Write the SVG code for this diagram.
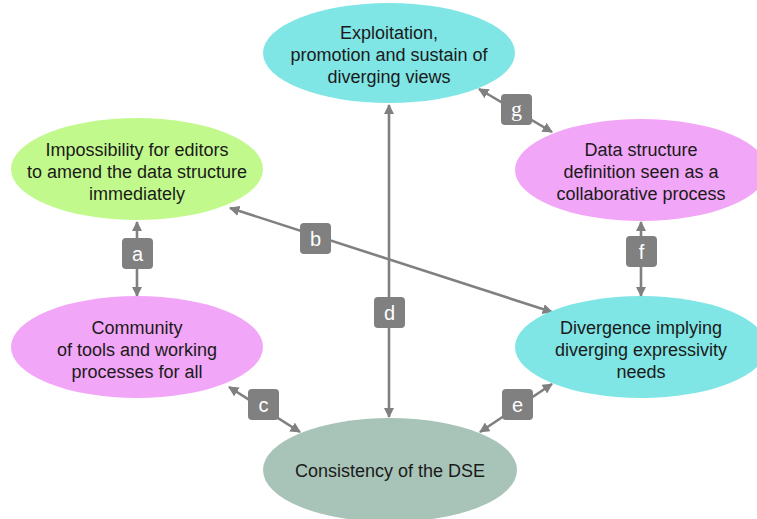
<svg xmlns="http://www.w3.org/2000/svg" width="757" height="519" viewBox="0 0 757 519">
<defs>
<marker id="ah" viewBox="0 0 10 10" refX="9" refY="5" markerWidth="4" markerHeight="4" orient="auto-start-reverse" markerUnits="strokeWidth">
<path d="M0,0 L10,5 L0,10 z" fill="#808080"/>
</marker>
<style>
.t{font-family:"Liberation Sans",Arial,sans-serif;font-size:18px;fill:#1a1a1a;text-anchor:middle}
.c{stroke:#808080;stroke-width:2.6;fill:none;marker-start:url(#ah);marker-end:url(#ah)}
.lb{fill:#808080}
.lt{font-family:"Liberation Sans",Arial,sans-serif;font-size:20px;fill:#ffffff;text-anchor:middle}
.lg{font-family:"Liberation Serif","Times New Roman",serif;font-size:22px;fill:#ffffff;text-anchor:middle}
</style>
</defs>
<rect width="757" height="519" fill="#ffffff"/>
<g id="connectors">
<line class="c" x1="137" y1="222" x2="137" y2="296"/>
<line class="c" x1="230" y1="208" x2="552" y2="312"/>
<line class="c" x1="229" y1="387" x2="300" y2="432"/>
<line class="c" x1="389" y1="105" x2="389" y2="417"/>
<line class="c" x1="552" y1="384" x2="480" y2="432"/>
<line class="c" x1="641" y1="222" x2="641" y2="296"/>
<line class="c" x1="479" y1="89" x2="552" y2="132"/>
<rect class="lb" x="122" y="238" width="31" height="31" rx="4"/><text class="lt" x="137.5" y="261">a</text>
<rect class="lb" x="300" y="223" width="31" height="31" rx="4"/><text class="lt" x="315.5" y="246">b</text>
<rect class="lb" x="248" y="389" width="31" height="31" rx="4"/><text class="lt" x="263.5" y="412">c</text>
<rect class="lb" x="374" y="297" width="31" height="31" rx="4"/><text class="lt" x="389.5" y="320">d</text>
<rect class="lb" x="502" y="389" width="31" height="31" rx="4"/><text class="lt" x="517.5" y="412">e</text>
<rect class="lb" x="626" y="236" width="31" height="31" rx="4"/><text class="lt" x="641.5" y="259">f</text>
<rect class="lb" x="501" y="94" width="31" height="31" rx="4"/><text class="lg" x="516.5" y="116">g</text>
</g>
<g id="n1">
<ellipse cx="389" cy="53" rx="126" ry="50" fill="#80e5e5"/>
<text class="t" x="389" y="39">Exploitation,</text>
<text class="t" x="389" y="61">promotion and sustain of</text>
<text class="t" x="389" y="83">diverging views</text>
</g>
<g id="n2">
<ellipse cx="137" cy="169" rx="126" ry="51" fill="#c2f98c"/>
<text class="t" x="137" y="156">Impossibility for editors</text>
<text class="t" x="137" y="178">to amend the data structure</text>
<text class="t" x="137" y="200">immediately</text>
</g>
<g id="n3">
<ellipse cx="641" cy="170" rx="126" ry="51" fill="#f2a6f7"/>
<text class="t" x="641" y="156">Data structure</text>
<text class="t" x="641" y="178">definition seen as a</text>
<text class="t" x="641" y="200">collaborative process</text>
</g>
<g id="n4">
<ellipse cx="137" cy="347" rx="126" ry="51" fill="#f2a6f7"/>
<text class="t" x="137" y="334">Community</text>
<text class="t" x="137" y="356">of tools and working</text>
<text class="t" x="137" y="378">processes for all</text>
</g>
<g id="n5">
<ellipse cx="641" cy="347" rx="126" ry="51" fill="#80e5e5"/>
<text class="t" x="641" y="334">Divergence implying</text>
<text class="t" x="641" y="356">diverging expressivity</text>
<text class="t" x="641" y="378">needs</text>
</g>
<g id="n6">
<ellipse cx="390" cy="470" rx="127" ry="52" fill="#a8c4b8"/>
<text class="t" x="390" y="477">Consistency of the DSE</text>
</g>
</svg>
